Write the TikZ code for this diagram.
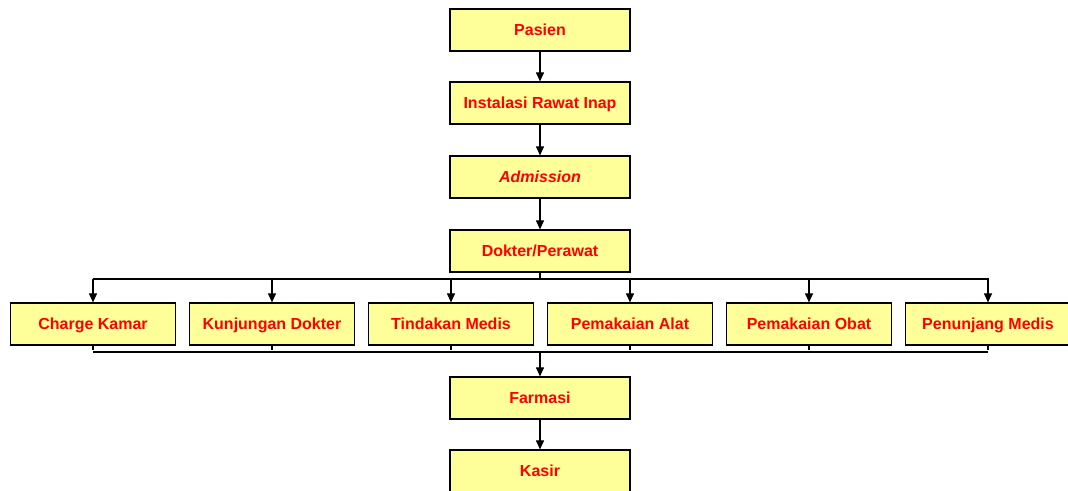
\documentclass[tikz,border=0pt]{standalone}
\usepackage{fontspec}
\setmainfont{Liberation Sans}
\usetikzlibrary{arrows.meta}
\definecolor{boxfill}{RGB}{255,255,153}
\definecolor{txtred}{RGB}{255,0,0}
\tikzset{
  flowbox/.style={draw=black, line width=1.2pt, fill=boxfill, minimum height=42pt, inner sep=0pt,
    text height=12pt, text depth=2pt,
    font=\fontsize{16}{18}\selectfont\bfseries, text=txtred},
  topbox/.style={flowbox, minimum width=180pt},
  rowbox/.style={flowbox, minimum width=165pt},
  link/.style={line width=1.1pt, draw=black},
  arr/.style={link, -{Triangle[length=9pt,width=8pt]}}
}
\begin{document}
\begin{tikzpicture}[x=1pt,y=-1pt]
\clip (0,0) rectangle (1068,490);
\useasboundingbox (0,0) rectangle (1068,490);
\node[topbox] (pas) at (540,30) {Pasien};
\node[topbox] (iri) at (540,103) {Instalasi Rawat Inap};
\node[topbox] (adm) at (540,177) {\itshape Admission};
\node[topbox] (dok) at (540,251) {Dokter/Perawat};
\node[rowbox] (r1) at (93,324) {Charge Kamar};
\node[rowbox] (r2) at (272,324) {Kunjungan Dokter};
\node[rowbox] (r3) at (451,324) {Tindakan Medis};
\node[rowbox] (r4) at (630,324) {Pemakaian Alat};
\node[rowbox] (r5) at (809,324) {Pemakaian Obat};
\node[rowbox] (r6) at (988,324) {Penunjang Medis};
\node[topbox] (far) at (540,398) {Farmasi};
\node[topbox] (kas) at (540,471) {Kasir};
\draw[arr] (pas) -- (iri);
\draw[arr] (iri) -- (adm);
\draw[arr] (adm) -- (dok);
\coordinate (bus) at (540,279);
\coordinate (bot) at (540,352);
\draw[link] (dok.south) -- (bus);
\draw[link] ([xshift=-0.5pt]bus -| r1.north) -- ([xshift=0.5pt]bus -| r6.north);
\foreach \r in {r1,r2,r3,r4,r5,r6}{
  \draw[arr] (bus -| \r.north) -- (\r.north);
  \draw[link] (\r.south) -- ([yshift=2pt]bot -| \r.south);
}
\draw[link] (bot -| r1.south) -- (bot -| r6.south);
\draw[arr] (bot) -- (far);
\draw[arr] (far) -- (kas);
\end{tikzpicture}
\end{document}
